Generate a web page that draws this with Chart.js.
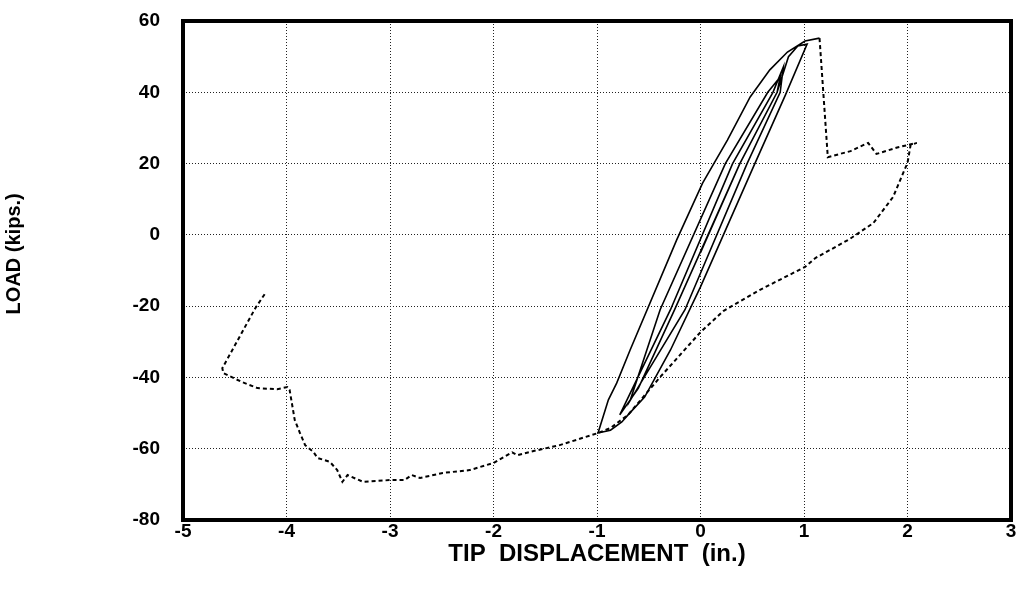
<!DOCTYPE html>
<html>
<head>
<meta charset="utf-8">
<script src="https://cdn.jsdelivr.net/npm/chart.js@4/dist/chart.umd.min.js"></script>
<style>
    html, body { margin: 0; padding: 0; background: #fff; }
    canvas { display: block; }
</style>
</head>
<body>
<canvas id="loadChart" width="1020" height="594"></canvas>
<script>
// Cyclic loops (solid line)
const cyclicDisp = [0, 0.38, 0.74, 0.77, 0.65, 0.24, -0.39, -0.68, -0.15, 0.45, 0.77, 0.80, 0.70, 0.31, -0.29, -0.78, -0.6, -0.25, 0.38, 0.74, 0.85, 0.94, 1.03, 0.82, 0.51, 0, -0.29, -0.54, -0.70, -0.76, -0.87, -0.99, -0.89, -0.81, -0.68, -0.23, 0.02, 0.26, 0.48, 0.67, 0.84, 1.01, 1.15];
const cyclicLoad = [-5, 20, 40, 44.3, 40, 20, -21, -46.5, -21, 20, 40, 47.1, 40, 20, -21, -50.5, -43, -21, 20, 40, 50, 53, 53.5, 39.2, 19, -14.6, -32.3, -45.5, -50.5, -52.5, -54.8, -55.6, -46.3, -41.6, -32.3, -1.4, 14.5, 26.6, 38.7, 46.3, 51.3, 54.4, 55.2];

// Post-peak path (dashed line)
const monoDisp = [1.15, 1.23, 1.45, 1.62, 1.70, 1.90, 2.09, 2.03, 2.00, 1.86, 1.67, 1.44, 1.11, 1.01, 0.57, 0.22, 0.00, -0.39, -0.70, -0.87, -0.99, -1.36, -1.65, -1.77, -1.82, -2.00, -2.23, -2.49, -2.71, -2.79, -2.86, -3.00, -3.26, -3.41, -3.46, -3.51, -3.58, -3.70, -3.74, -3.82, -3.87, -3.92, -3.97, -3.99, -4.09, -4.28, -4.43, -4.61, -4.62, -4.30, -4.21];
const monoLoad = [55.2, 21.8, 23.5, 25.8, 22.7, 24.5, 25.8, 25.2, 20.2, 10.6, 3.3, -1.2, -6.5, -9, -15.5, -21.4, -27.3, -39.9, -50.5, -54.2, -55.6, -59, -60.9, -61.8, -61, -64, -66, -66.8, -68.2, -67.4, -68.8, -68.8, -69.3, -67.4, -69.3, -66, -63.7, -62.6, -60.9, -59, -55.6, -52, -43.5, -42.7, -43.3, -43, -41.3, -38.8, -37.4, -20.5, -16.6];

const xTicks = [-5, -4, -3, -2, -1, 0, 1, 2, 3];
const yTicks = [-80, -60, -40, -20, 0, 20, 40, 60];

const toPoints = (xs, ys) => xs.map((x, i) => ({ x: x, y: ys[i] }));

const fontFamily = "'Liberation Sans', Arial, sans-serif";
const tickFont = { family: fontFamily, size: 19, weight: 'bold' };

// thick frame around the plot area
const framePlugin = {
    id: 'frame',
    afterDraw(chart) {
        const { ctx, chartArea } = chart;
        ctx.save();
        ctx.strokeStyle = '#000';
        ctx.lineWidth = 4;
        ctx.strokeRect(chartArea.left, chartArea.top, chartArea.right - chartArea.left, chartArea.bottom - chartArea.top);
        ctx.restore();
    }
};

new Chart(document.getElementById('loadChart'), {
    type: 'scatter',
    data: {
        datasets: [
            {
                data: toPoints(cyclicDisp, cyclicLoad),
                showLine: true,
                borderColor: '#000',
                borderWidth: 1.6,
                pointRadius: 0,
                tension: 0
            },
            {
                data: toPoints(monoDisp, monoLoad),
                showLine: true,
                borderColor: '#000',
                borderWidth: 2,
                borderDash: [4, 3],
                pointRadius: 0,
                tension: 0
            }
        ]
    },
    options: {
        responsive: false,
        animation: false,
        devicePixelRatio: 1,
        layout: { padding: { left: 0, top: 21, right: 9, bottom: 0 } },
        plugins: {
            legend: { display: false },
            tooltip: { enabled: false }
        },
        scales: {
            x: {
                type: 'linear',
                min: xTicks[0],
                max: xTicks[xTicks.length - 1],
                afterBuildTicks: scale => { scale.ticks = xTicks.map(v => ({ value: v })); },
                afterFit: scale => { scale.height = 74; },
                grid: { color: '#222', lineWidth: 1, drawTicks: false },
                border: { display: false, dash: [1, 2] },
                ticks: { color: '#000', font: tickFont, padding: 0, maxRotation: 0 },
                title: {
                    display: true,
                    text: 'TIP  DISPLACEMENT  (in.)',
                    color: '#000',
                    font: { family: fontFamily, size: 24, weight: 'bold' },
                    padding: { top: 0, bottom: 25 }
                }
            },
            y: {
                type: 'linear',
                min: yTicks[0],
                max: yTicks[yTicks.length - 1],
                afterBuildTicks: scale => { scale.ticks = yTicks.map(v => ({ value: v })); },
                afterFit: scale => { scale.width = 183; },
                // invisible tick marks keep the labels away from the frame
                grid: { color: '#222', lineWidth: 1, drawTicks: true, tickLength: 23, tickColor: 'rgba(0,0,0,0)' },
                border: { display: false, dash: [1, 2] },
                ticks: { color: '#000', font: tickFont, padding: 0 },
                title: {
                    display: true,
                    text: '      LOAD (kips.)',
                    color: '#000',
                    font: { family: fontFamily, size: 20, weight: 'bold' },
                    padding: { top: 2, bottom: 0 }
                }
            }
        }
    },
    plugins: [framePlugin]
});
</script>
</body>
</html>
